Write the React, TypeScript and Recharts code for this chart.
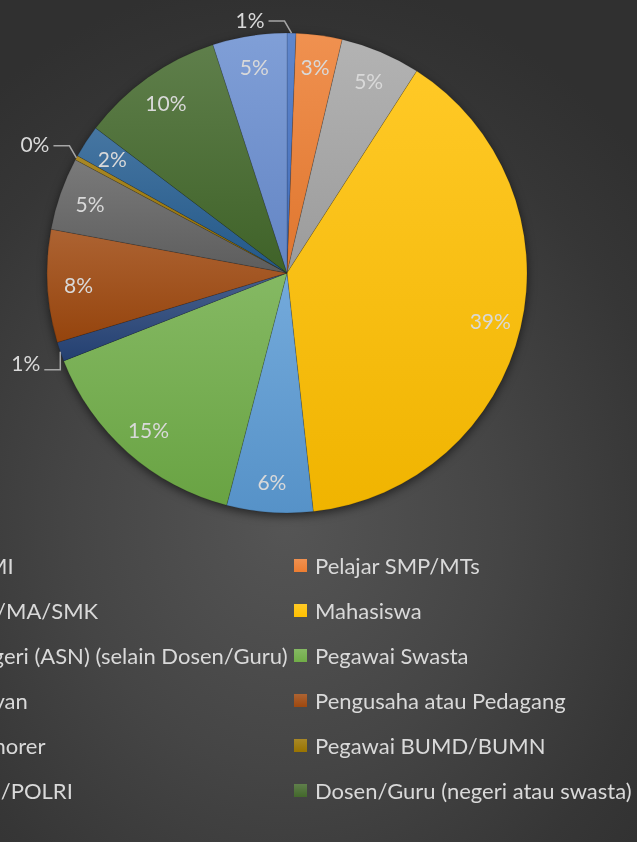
import { Cell, Pie, PieChart } from 'recharts';

const CATEGORIES = [
  'Pelajar SD/MI',
  'Pelajar SMP/MTs',
  'Pelajar SMA/MA/SMK',
  'Mahasiswa',
  'Pegawai Negeri (ASN) (selain Dosen/Guru)',
  'Pegawai Swasta',
  'Petani/Nelayan',
  'Pengusaha atau Pedagang',
  'Pegawai Honorer',
  'Pegawai BUMD/BUMN',
  'Anggota TNI/POLRI',
  'Dosen/Guru (negeri atau swasta)',
  'Lainnya',
];

// share of respondents, percent
const SHARES = [0.6, 3.1, 5.4, 39.2, 5.8, 15.0, 1.3, 7.6, 4.9, 0.3, 2.2, 9.7, 5.0];

const COLORS = [
  '#4472C4', '#ED7D31', '#A5A5A5', '#FFC000', '#5B9BD5', '#70AD47',
  '#264478', '#9E480E', '#636363', '#997300', '#255E91', '#43682B', '#698ED0',
];

const data = CATEGORIES.map((name, i) => ({ name, value: SHARES[i] }));

const W = 637;
const H = 842;
const RAD = Math.PI / 180;
const TEXT = '#d9d9d9';
const FONT = 'Lato, "Open Sans", sans-serif';

function mix(hex: string, target: number, amt: number) {
  const n = parseInt(hex.slice(1), 16);
  const ch = [(n >> 16) & 255, (n >> 8) & 255, n & 255].map((c) => Math.round(c + (target - c) * amt));
  return `rgb(${ch.join(',')})`;
}

function renderLabel(props: any) {
  const { cx, cy, midAngle, outerRadius, percent } = props;
  const txt = `${Math.round(percent * 100)}%`;
  const cos = Math.cos(-midAngle * RAD);
  const sin = Math.sin(-midAngle * RAD);
  if (percent < 0.015) {
    // small slices: label outside with a leader line
    const ex = cx + outerRadius * cos;
    const ey = cy + outerRadius * sin;
    const upper = sin < 0;
    const bx = upper ? ex - 7 : ex;
    const by = upper ? ey - 12 : ey + 18;
    const hx = bx - 16;
    return (
      <g>
        <polyline points={`${ex},${ey} ${bx},${by} ${hx},${by}`} fill="none" stroke="#a6a6a6" strokeWidth={1.5} />
        <text x={hx - 4} y={upper ? by - 2 : by - 7} fill={TEXT} fontSize={21} fontFamily={FONT} textAnchor="end" dominantBaseline="central">
          {txt}
        </text>
      </g>
    );
  }
  const r = outerRadius * 0.87;
  return (
    <text x={cx + r * cos} y={cy + r * sin} fill={TEXT} fontSize={21} fontFamily={FONT} textAnchor="middle" dominantBaseline="central">
      {txt}
    </text>
  );
}

const ROW_Y = [565, 610, 655, 700, 745, 790];

export default function App() {
  const legendItems = CATEGORIES.slice(0, 12);
  return (
    <div
      style={{
        position: 'fixed',
        left: 0,
        top: 0,
        width: W,
        height: H,
        overflow: 'hidden',
        background: 'radial-gradient(ellipse 75% 65% at 45% 62%, #555555 0%, #454545 45%, #363636 80%, #303030 100%)',
        fontFamily: FONT,
      }}
    >
      <style>{`.recharts-pie { filter: drop-shadow(0px 3px 5px rgba(0,0,0,0.55)); }`}</style>
      <PieChart width={W} height={H} margin={{ top: 0, right: 0, bottom: 0, left: 0 }} style={{ position: 'absolute', left: 0, top: 0 }}>
        <defs>
          {COLORS.map((c, i) => (
            <linearGradient key={i} id={`g${i}`} x1="0" y1="0" x2="0" y2="1">
              <stop offset="0%" stopColor={mix(c, 255, 0.15)} />
              <stop offset="100%" stopColor={mix(c, 0, 0.06)} />
            </linearGradient>
          ))}
        </defs>
        <Pie
          data={data}
          dataKey="value"
          nameKey="name"
          cx={287}
          cy={273}
          outerRadius={240}
          startAngle={90}
          endAngle={-270}
          stroke="rgba(0,0,0,0.18)"
          strokeWidth={0.8}
          label={renderLabel}
          labelLine={false}
          isAnimationActive={false}
        >
          {data.map((_, i) => (
            <Cell key={i} fill={`url(#g${i})`} />
          ))}
        </Pie>
      </PieChart>
      {legendItems.map((name, i) => {
        const col = i % 2;
        const row = Math.floor(i / 2);
        const left = col === 0 ? -142 : 294;
        return (
          <div
            key={name}
            style={{
              position: 'absolute',
              left,
              top: ROW_Y[row] - 15,
              height: 30,
              display: 'flex',
              alignItems: 'center',
              whiteSpace: 'nowrap',
              color: TEXT,
              fontSize: 22,
            }}
          >
            <span style={{ width: 13, height: 13, background: `linear-gradient(${mix(COLORS[i], 255, 0.15)}, ${COLORS[i]})`, marginRight: 8 }} />
            <span>{name}</span>
          </div>
        );
      })}
    </div>
  );
}
